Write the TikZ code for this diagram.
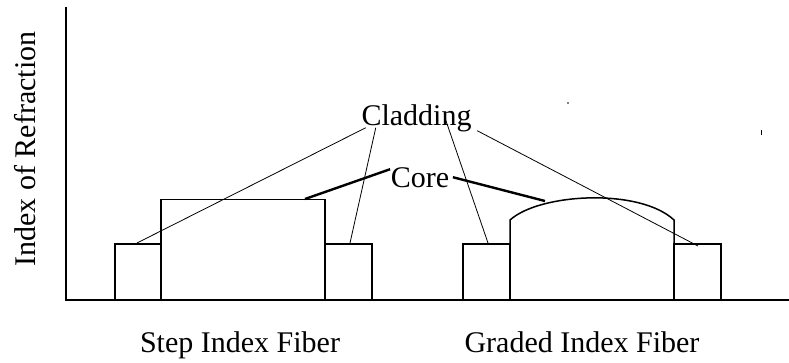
\documentclass[tikz,border=0pt]{standalone}
\usepackage{fontspec}
\setmainfont{Liberation Serif}
\usetikzlibrary{positioning}
\begin{document}
\begin{tikzpicture}[x=1pt,y=-1pt,line width=1.5pt,
  lbl/.style={font=\fontsize{30}{36}\selectfont,inner sep=0pt},
  lead/.style={line width=0.8pt},
  corelead/.style={line width=2.4pt}]
\useasboundingbox (0,0) rectangle (789,362);
% axes
\draw (66,7) -- (66,300) -- (789,300);
% step index fiber
\draw (115,300) rectangle (161,244);
\draw (161,300) rectangle (325,199.5);
\draw (325,300) rectangle (372,244);
% graded index fiber
\draw (463,300) rectangle (510,244);
\draw (674,300) rectangle (721,244);
\draw (510,300) -- (510,220) .. controls (540,193) and (640,188) .. (674,220) -- (674,300);
\coordinate (sl) at (137,243);
\coordinate (sr) at (350,243);
\coordinate (sc) at (305,199);
\coordinate (gl) at (488,243);
\coordinate (gr) at (698,246);
\coordinate (gc) at (545,201);
\node[lbl,rotate=90,anchor=base] (ylab) at (35,149) {Index of Refraction};
\node[lbl,anchor=base] (clad) at (416.5,125.5) {Cladding};
\node[lbl,anchor=base] (core) at (420,187) {Core};
\node[lbl,anchor=base] (step) at (240,352) {Step Index Fiber};
\node[lbl,anchor=base] (grad) at (582,352) {Graded Index Fiber};
\draw[lead] ([xshift=5pt,yshift=5pt]clad.south west) -- (sl);
\draw[lead] ([xshift=15pt,yshift=5pt]clad.south west) -- (sr);
\draw[lead] ([xshift=-27pt,yshift=14pt]clad.south east) -- (gl);
\draw[lead] ([xshift=5pt,yshift=2pt]clad.south east) -- (gr);
\draw[corelead] ([yshift=8pt]core.west) -- (sc);
\draw[corelead] ([xshift=3pt]core.east) -- (gc);
% stray marks
\fill (568,103) circle (0.9);
\draw[line width=1pt] (761,130) -- (761,135);
\end{tikzpicture}
\end{document}
